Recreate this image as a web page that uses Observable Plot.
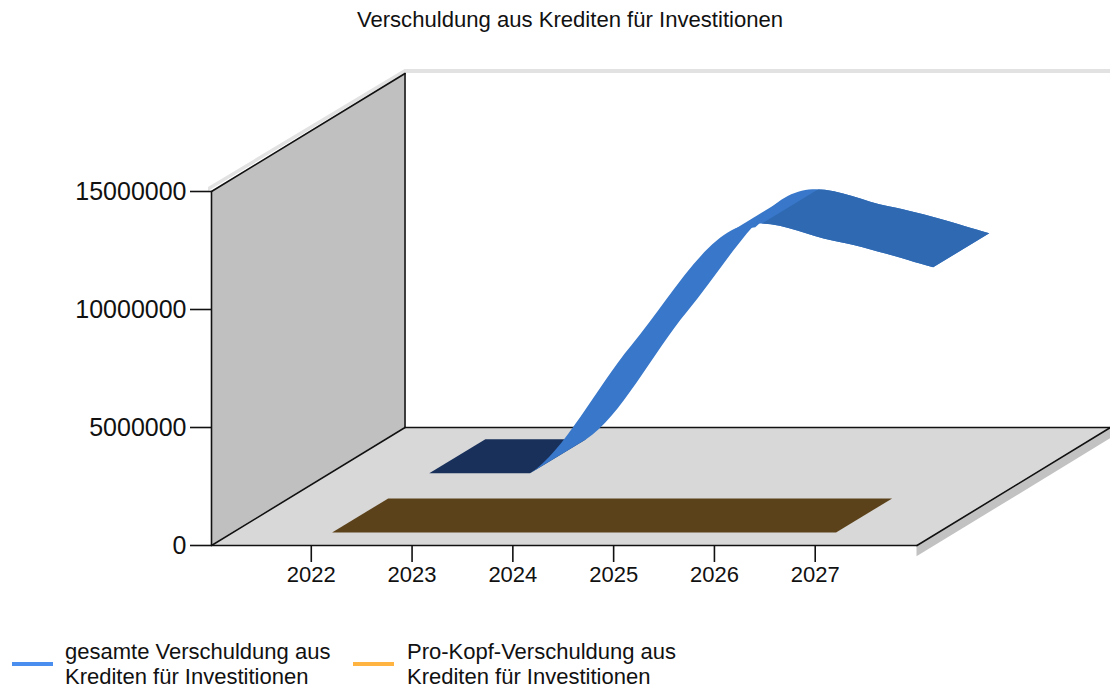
<!DOCTYPE html>
<html lang="de"><head><meta charset="utf-8">
<script src="https://cdn.jsdelivr.net/npm/d3@7"></script>
<script src="https://cdn.jsdelivr.net/npm/@observablehq/plot@0.6"></script>
<style>
html,body{margin:0;padding:0;background:#fff;}
body{width:1110px;height:691px;position:relative;overflow:hidden;font-family:"Liberation Sans",Arial,sans-serif;color:#111;}
#title{position:absolute;left:0;width:1140px;top:8px;text-align:center;font-size:22.1px;line-height:24px;}
#chart{position:absolute;left:0;top:40px;}
.leg{position:absolute;top:639px;font-size:22px;line-height:25px;white-space:nowrap;}
.sw{position:absolute;top:662px;height:4px;width:41px;}
</style></head><body>
<div id="title">Verschuldung aus Krediten für Investitionen</div>
<div id="chart"></div>
<div class="sw" style="left:12px;background:#4a8fef"></div>
<div class="leg" style="left:65px">gesamte Verschuldung aus<br>Krediten für Investitionen</div>
<div class="sw" style="left:353px;background:#ffb340"></div>
<div class="leg" style="left:407px">Pro-Kopf-Verschuldung aus<br>Krediten für Investitionen</div>
<script>
const years = [2022, 2023, 2024, 2025, 2026, 2027];
const totalDebt = [0, 0, 5400000, 10300000, 9870000, 8730000];
const perCapitaDebt = [0, 0, 0, 0, 0, 0];
const yTicks = [0, 5000000, 10000000, 15000000];

// 3D box of the chart: depth 0 = front, 1 = back
const depthYears = 1.92, depthValue = 5000000;
const yearMin = 2021, yearMax = 2028, wallTop = 15000000;
const totalBand = [0.607, 0.897], perCapitaBand = [0.105, 0.395];
const shadeBreak = 2025.23;

const X = (yr, d) => yr + d * depthYears;
const Y = (v, d) => v + d * depthValue;
const ribbon = (yrs, vals, [d0, d1]) => yrs.map((yr, i) => ({
  x1: X(yr, d0), y1: Y(vals[i], d0), x2: X(yr, d1), y2: Y(vals[i], d1)
}));
const pos = {x1: "x1", y1: "y1", x2: "x2", y2: "y2"};
const edge = (a, b) => [{x: a[0], y: a[1]}, {x: b[0], y: b[1]}];

const floor = [
  {x1: X(yearMin, 0), y1: 0, x2: X(yearMin, 1), y2: Y(0, 1)},
  {x1: X(yearMax, 0), y1: 0, x2: X(yearMax, 1), y2: Y(0, 1)}
];
const leftWall = [
  {x1: X(yearMin, 0), y1: 0, x2: X(yearMin, 0), y2: wallTop},
  {x1: X(yearMin, 1), y1: Y(0, 1), x2: X(yearMin, 1), y2: Y(wallTop, 1)}
];
const floorShadow = [
  {x1: X(yearMax, 0), y1: 0, x2: X(yearMax, 0), y2: -480000},
  {x1: X(yearMax, 1), y1: Y(0, 1), x2: X(yearMax, 1), y2: Y(-480000, 1)}
];
const wallShadow = [
  {x1: X(yearMin, 0) - 0.03, y1: wallTop, x2: X(yearMin, 0) - 0.03, y2: wallTop + 170000},
  {x1: X(yearMin, 1), y1: Y(wallTop, 1), x2: X(yearMin, 1), y2: Y(wallTop, 1) + 170000},
  {x1: X(yearMax, 1), y1: Y(wallTop, 1), x2: X(yearMax, 1), y2: Y(wallTop, 1) + 170000}
];
const blackEdges = [
  edge([X(yearMin, 0), 0], [X(yearMin, 0), wallTop]),
  edge([X(yearMin, 1), Y(0, 1)], [X(yearMin, 1), Y(wallTop, 1)]),
  edge([X(yearMin, 0), wallTop], [X(yearMin, 1), Y(wallTop, 1)]),
  edge([X(yearMin, 0), 0], [X(yearMin, 1), Y(0, 1)]),
  edge([X(yearMin, 1), Y(0, 1)], [X(yearMax, 1), Y(0, 1)]),
  edge([X(yearMax, 0), 0], [X(yearMax, 1), Y(0, 1)]),
  edge([X(yearMin, 0), 0], [X(yearMax, 0), 0])
];

const iFold = years.indexOf(2025);
const foldPatch = [
  {x: X(2025, totalBand[0]), y: Y(totalDebt[iFold], totalBand[0])},
  {x: X(2025, totalBand[1]), y: Y(totalDebt[iFold], totalBand[1])},
  {x: X(shadeBreak, totalBand[0]), y: Y(totalDebt[iFold] + 150000, totalBand[0])}
];

// The spline runs 2023-2027; 2022 and a repeated 2027 only steer its ends ("open" curve)
const splineRows = ribbon([...years, years.at(-1)], [...totalDebt, totalDebt.at(-1)], totalBand);

// Falling part of the ribbon has a darker shade, cut along the depth direction at the fold
const foldD = totalBand[0];
const foldV = totalDebt[iFold] + 100000;
const fallRegion = [
  [X(shadeBreak, foldD), Y(foldV, foldD)],
  [X(shadeBreak, foldD + 0.6), Y(foldV, foldD + 0.6)],
  [X(yearMax, 1), Y(foldV, foldD + 0.6)],
  [X(yearMax, 1), 0],
  [X(shadeBreak, foldD), 0]
];
const clipToFall = (index, scales, values, dims, ctx, next) => {
  const g = next(index, scales, values, dims, ctx);
  const pts = fallRegion.map(([x, y]) => `${scales.x(x)},${scales.y(y)}`).join(" ");
  const clip = d3.create("svg:clipPath").attr("id", "fallClip");
  clip.append("polygon").attr("points", pts);
  const wrap = d3.create("svg:g");
  wrap.append(() => clip.node());
  g.setAttribute("clip-path", "url(#fallClip)");
  wrap.append(() => g);
  return wrap.node();
};

const plot = Plot.plot({
  width: 1110, height: 560,
  marginLeft: 211, marginRight: 0, marginTop: 33, marginBottom: 55,
  x: {domain: [yearMin, X(yearMax, 1)], label: null},
  y: {domain: [0, Y(wallTop, 1)], label: null},
  style: {fontFamily: '"Liberation Sans",Arial,sans-serif', color: "#111", overflow: "visible", background: "transparent"},
  marks: [
    Plot.area(wallShadow, {...pos, fill: "#e2e2e2"}),
    Plot.area(floorShadow, {...pos, fill: "#c2c2c2"}),
    Plot.area(leftWall, {...pos, fill: "#c0c0c0"}),
    Plot.area(floor, {...pos, fill: "#d8d8d8"}),
    ...blackEdges.map(e => Plot.line(e, {x: "x", y: "y", stroke: "#111", strokeWidth: 1.6})),
    Plot.axisY({ticks: yTicks, tickFormat: "d", tickSize: 21, tickPadding: 4, fontSize: 25, stroke: "#111", strokeWidth: 1.6, label: null}),
    Plot.axisX({ticks: years, tickFormat: "d", tickSize: 17, tickPadding: 4, fontSize: 22, dx: -1, stroke: "#111", strokeWidth: 1.6, label: null}),
    Plot.area(ribbon(years, perCapitaDebt, perCapitaBand), {...pos, fill: "#5c421a"}),
    Plot.area(ribbon(years.slice(0, 2), totalDebt.slice(0, 2), totalBand), {...pos, fill: "#18305a"}),
    Plot.line(foldPatch, {x: "x", y: "y", fill: "#3877c9", stroke: "none"}),
    Plot.area(splineRows, {...pos, fill: "#3877c9", curve: "cardinal-open", tension: 0}),
    Plot.area(splineRows, {...pos, fill: "#2f69b2", curve: "cardinal-open", tension: 0, render: clipToFall})
  ]
});
document.getElementById("chart").append(plot);
</script>
</body></html>
